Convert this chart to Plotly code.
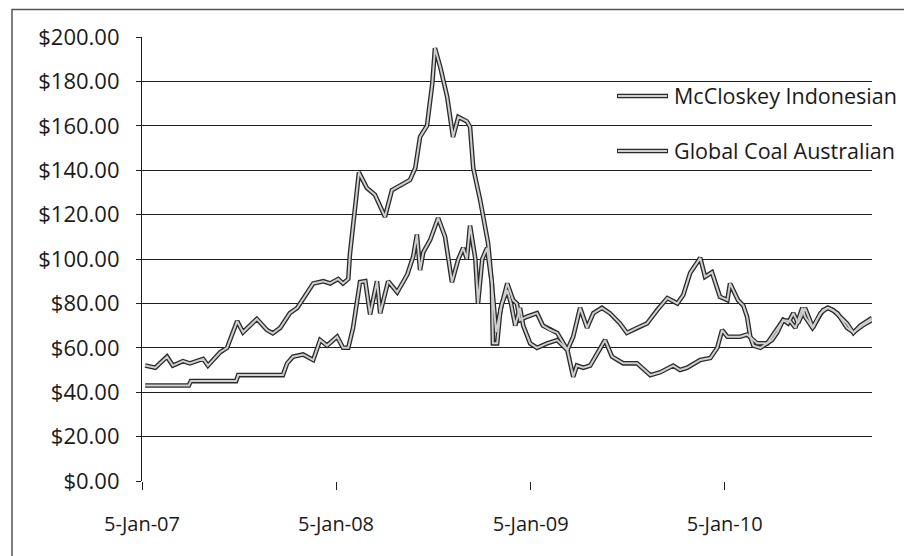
import plotly.graph_objects as go

# ---------------- data ----------------
aus_dates = [
    "2007-01-11", "2007-01-30", "2007-02-21", "2007-03-04", "2007-03-23", "2007-04-05",
    "2007-04-30", "2007-05-09", "2007-06-01", "2007-06-14", "2007-07-03", "2007-07-14",
    "2007-08-09", "2007-08-28", "2007-09-08", "2007-09-22", "2007-10-10", "2007-10-24",
    "2007-11-04", "2007-11-23", "2007-12-12", "2007-12-25", "2008-01-09", "2008-01-18",
    "2008-01-28", "2008-01-31", "2008-02-17", "2008-03-03", "2008-03-18", "2008-04-06",
    "2008-04-19", "2008-05-04", "2008-05-23", "2008-06-02", "2008-06-11", "2008-06-24",
    "2008-07-04", "2008-07-09", "2008-07-19", "2008-08-01", "2008-08-12", "2008-08-22",
    "2008-09-07", "2008-09-13", "2008-09-19", "2008-10-02", "2008-10-17", "2008-10-24",
    "2008-10-26", "2008-11-03", "2008-11-09", "2008-11-22", "2008-12-03", "2008-12-10",
    "2008-12-16", "2008-12-29", "2009-01-17", "2009-01-28", "2009-02-11", "2009-02-24",
    "2009-03-15", "2009-03-26", "2009-04-08", "2009-04-21", "2009-05-03", "2009-05-19",
    "2009-06-03", "2009-06-22", "2009-07-05", "2009-07-24", "2009-08-12", "2009-08-31",
    "2009-09-19", "2009-10-08", "2009-10-19", "2009-11-01", "2009-11-20", "2009-11-29",
    "2009-12-12", "2009-12-27", "2010-01-10", "2010-01-15", "2010-01-30", "2010-02-09",
    "2010-02-16", "2010-02-22", "2010-02-28", "2010-03-13", "2010-03-26", "2010-04-04",
    "2010-04-14", "2010-04-25", "2010-05-08", "2010-05-18", "2010-05-31", "2010-06-05",
    "2010-06-19", "2010-06-28", "2010-07-09", "2010-07-19", "2010-08-05", "2010-08-23",
    "2010-09-04", "2010-09-21", "2010-10-09",
]
aus_values = [
    52, 51, 56, 52, 54, 53,
    55, 52, 58, 60, 72, 67,
    73, 68, 66.5, 69, 75.6, 78,
    82, 89, 90, 89, 91, 89,
    91, 102, 139, 132, 129, 119,
    131, 133, 135.6, 141, 155, 160,
    179, 195, 186.5, 173, 155, 164,
    162, 159.5, 141, 126.6, 107, 89,
    62, 62, 77, 89, 81.5, 80,
    72.5, 74, 75.6, 70, 68, 66.7,
    59, 65, 78, 69, 75.6, 78,
    75.6, 71, 66.7, 69, 71, 77,
    82.4, 80, 83.8, 93.7, 100.5, 92,
    94, 83, 81.5, 89, 81.5, 79,
    74, 65, 61, 60, 62, 63.5,
    67, 72.5, 72, 69, 78, 74,
    69, 73, 77, 78, 75.6, 69,
    67, 70, 72.5,
]

indo_dates = [
    "2007-01-11", "2007-04-03", "2007-04-07", "2007-07-01", "2007-07-05", "2007-09-27",
    "2007-10-05", "2007-10-16", "2007-11-04", "2007-11-23", "2007-12-06", "2007-12-19",
    "2008-01-07", "2008-01-18", "2008-01-28", "2008-02-06", "2008-02-19", "2008-02-29",
    "2008-03-09", "2008-03-22", "2008-03-28", "2008-04-12", "2008-04-29", "2008-05-18",
    "2008-05-29", "2008-06-05", "2008-06-11", "2008-06-17", "2008-06-30", "2008-07-15",
    "2008-07-28", "2008-08-10", "2008-08-22", "2008-08-31", "2008-09-07", "2008-09-13",
    "2008-09-23", "2008-09-28", "2008-10-06", "2008-10-15", "2008-10-24", "2008-11-01",
    "2008-11-12", "2008-11-22", "2008-11-29", "2008-12-07", "2008-12-16", "2008-12-22",
    "2009-01-04", "2009-01-17", "2009-02-05", "2009-02-24", "2009-03-15", "2009-03-26",
    "2009-04-02", "2009-04-14", "2009-04-27", "2009-05-16", "2009-05-25", "2009-06-07",
    "2009-06-28", "2009-07-24", "2009-08-18", "2009-09-06", "2009-09-30", "2009-10-13",
    "2009-10-26", "2009-11-20", "2009-12-09", "2009-12-22", "2009-12-31", "2010-01-10",
    "2010-02-03", "2010-02-16", "2010-03-07", "2010-03-26", "2010-04-14", "2010-04-25",
    "2010-05-04", "2010-05-14", "2010-05-23", "2010-06-05", "2010-06-20", "2010-07-04",
    "2010-07-17", "2010-07-28", "2010-08-10", "2010-08-23", "2010-09-04", "2010-09-17",
    "2010-10-09",
]
indo_values = [
    43, 43, 45, 45, 47.7, 47.7,
    53, 56, 57, 54.5, 63.5, 61,
    65, 60, 60, 69, 89.6, 90,
    75, 90, 75.6, 90, 85, 93,
    101, 111, 95, 103, 108.6, 118.5,
    110, 89.6, 100, 105, 100, 115,
    100, 80, 100, 105, 89, 67,
    80, 86, 80, 70, 78, 70,
    62, 60, 62, 63.5, 59, 47,
    52, 51, 52, 60, 63.5, 56,
    53, 53, 47.7, 49, 52, 50,
    51, 54.5, 55.4, 60, 68, 65,
    65, 66, 62, 62, 69, 72.5,
    71, 75.6, 71, 78, 69, 75.6,
    78, 77, 74, 71, 66.7, 70,
    73.4,
]

series_names = ["McCloskey Indonesian", "Global Coal Australian"]
y_ticks = [0, 20, 40, 60, 80, 100, 120, 140, 160, 180, 200]
x_ticks = ["2007-01-05", "2008-01-05", "2009-01-05", "2010-01-05"]
x_tick_labels = ["5-Jan-07", "5-Jan-08", "5-Jan-09", "5-Jan-10"]
x_range = ["2007-01-05", "2010-10-09"]

# ---------------- figure ----------------
OFF = 8                       # page body margin
W, H = 912 - OFF, 556 - OFF
PL, PR, PT, PB = 142, 872, 37, 481   # plot area in window pixels
L, R, T, B = PL - OFF, W - (PR - OFF), PT - OFF, H - (PB - OFF)
pw, ph = PR - PL, PB - PT

def px_x(p):
    return (p - PL) / pw

def px_y(p):
    return (PB - p) / ph

OUTLINE = "#2a2a2a"
INNER = "#cfcfcf"
FONT = "'Open Sans', Lato, sans-serif"
TXT = "#1a1a1a"

fig = go.Figure()
for d, v in ((aus_dates, aus_values), (indo_dates, indo_values)):
    fig.add_trace(go.Scatter(x=d, y=v, mode="lines", showlegend=False, hoverinfo="skip",
                             line=dict(color=OUTLINE, width=4.6)))
for name, d, v in ((series_names[1], aus_dates, aus_values), (series_names[0], indo_dates, indo_values)):
    fig.add_trace(go.Scatter(x=d, y=v, mode="lines", name=name, showlegend=False,
                             line=dict(color=INNER, width=2)))

shapes = []
annotations = []
# outer chart border (top and left edges visible)
shapes.append(dict(type="rect", xref="paper", yref="paper",
                   x0=px_x(12), x1=px_x(940), y0=px_y(580), y1=px_y(9.5),
                   line=dict(color="#555", width=1.5), fillcolor="rgba(0,0,0,0)", layer="below"))
# manual legend
for name, py in ((series_names[0], 96), (series_names[1], 151)):
    shapes.append(dict(type="line", xref="paper", yref="paper",
                       x0=px_x(617), x1=px_x(668), y0=px_y(py), y1=px_y(py),
                       line=dict(color=OUTLINE, width=4.6)))
    shapes.append(dict(type="line", xref="paper", yref="paper",
                       x0=px_x(618), x1=px_x(667), y0=px_y(py), y1=px_y(py),
                       line=dict(color=INNER, width=2)))
    annotations.append(dict(text=name, xref="paper", yref="paper",
                            x=px_x(672), y=px_y(py - 1), xanchor="left", yanchor="middle",
                            showarrow=False, font=dict(family=FONT, size=21.5, color=TXT)))

fig.update_layout(
    width=W, height=H,
    margin=dict(l=L, r=R, t=T, b=B, autoexpand=False),
    paper_bgcolor="white", plot_bgcolor="white",
    showlegend=False,
    shapes=shapes, annotations=annotations,
    font=dict(family=FONT, size=20, color=TXT),
)
fig.update_yaxes(
    range=[0, 200], tickvals=y_ticks, tickformat="$,.2f", automargin=False,
    showgrid=True, gridcolor="#1e1e1e", gridwidth=1,
    showline=True, linecolor="#1e1e1e", linewidth=1.2,
    ticks="outside", ticklen=5, tickcolor="#1e1e1e",
    ticklabelstandoff=12, zeroline=False,
    tickfont=dict(family=FONT, size=22, color=TXT),
)
fig.update_xaxes(
    type="date", range=x_range, tickvals=x_ticks, ticktext=x_tick_labels, automargin=False,
    showgrid=False, showline=False,
    ticks="outside", ticklen=8, tickcolor="#1e1e1e",
    ticklabelstandoff=17,
    tickfont=dict(family=FONT, size=20, color=TXT),
)

fig.write_html("out.html")
